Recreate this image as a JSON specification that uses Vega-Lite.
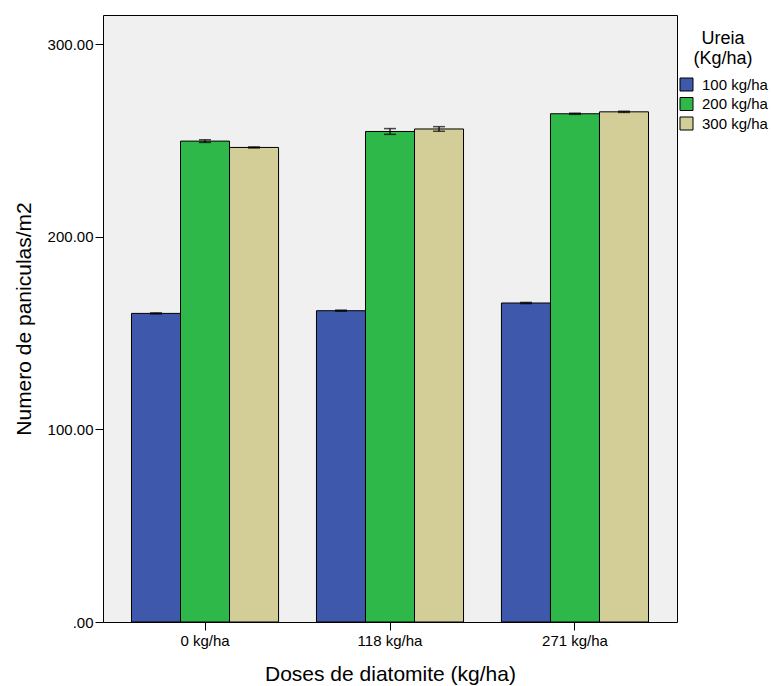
{
  "$schema": "https://vega.github.io/schema/vega-lite/v6.json",
  "width": 574,
  "height": 607,
  "autosize": {"type": "none"},
  "padding": {"left": 103, "top": 15, "right": 94, "bottom": 64},
  "background": "white",
  "config": {
    "font": "Liberation Sans",
    "view": {"fill": "#f0f0f0", "stroke": "black", "strokeWidth": 1},
    "axis": {
      "labelFont": "Liberation Sans",
      "titleFont": "Liberation Sans",
      "titleFontWeight": "normal",
      "domain": false,
      "grid": false,
      "tickColor": "black",
      "labelColor": "black",
      "titleColor": "black"
    },
    "legend": {
      "labelFont": "Liberation Sans",
      "titleFont": "Liberation Sans"
    }
  },
  "data": {
    "values": [
      {"dose": "0 kg/ha", "ureia": "100 kg/ha", "mean": 160.3, "lo": 160.0, "hi": 160.6},
      {"dose": "0 kg/ha", "ureia": "200 kg/ha", "mean": 249.8, "lo": 249.1, "hi": 250.5},
      {"dose": "0 kg/ha", "ureia": "300 kg/ha", "mean": 246.5, "lo": 246.2, "hi": 246.8},
      {"dose": "118 kg/ha", "ureia": "100 kg/ha", "mean": 161.7, "lo": 161.4, "hi": 162.0},
      {"dose": "118 kg/ha", "ureia": "200 kg/ha", "mean": 254.8, "lo": 253.3, "hi": 256.3},
      {"dose": "118 kg/ha", "ureia": "300 kg/ha", "mean": 256.1, "lo": 254.9, "hi": 257.3},
      {"dose": "271 kg/ha", "ureia": "100 kg/ha", "mean": 165.7, "lo": 165.4, "hi": 166.0},
      {"dose": "271 kg/ha", "ureia": "200 kg/ha", "mean": 264.0, "lo": 263.7, "hi": 264.3},
      {"dose": "271 kg/ha", "ureia": "300 kg/ha", "mean": 265.0, "lo": 264.7, "hi": 265.3}
    ]
  },
  "encoding": {
    "x": {
      "field": "dose",
      "type": "nominal",
      "sort": ["0 kg/ha", "118 kg/ha", "271 kg/ha"],
      "scale": {"paddingInner": 0.205, "paddingOuter": 0.154},
      "axis": {
        "labelAngle": 0,
        "title": "Doses de diatomite (kg/ha)",
        "titleFontSize": 21,
        "labelFontSize": 15,
        "tickSize": 8,
        "labelPadding": 3,
        "titlePadding": 15
      }
    },
    "xOffset": {
      "field": "ureia",
      "type": "nominal",
      "sort": ["100 kg/ha", "200 kg/ha", "300 kg/ha"],
      "scale": {"paddingInner": 0, "paddingOuter": 0}
    }
  },
  "layer": [
    {
      "mark": {"type": "bar", "stroke": "black", "strokeWidth": 1},
      "encoding": {
        "y": {
          "field": "mean",
          "type": "quantitative",
          "scale": {"domain": [0, 315.3], "nice": false, "zero": true},
          "axis": {
            "title": "Numero de paniculas/m2",
            "values": [0, 100, 200, 300],
            "labelExpr": "datum.value == 0 ? '.00' : format(datum.value, '.2f')",
            "labelFontSize": 15,
            "titleFontSize": 21,
            "tickSize": 8,
            "labelPadding": 2,
            "titlePadding": 13
          }
        },
        "color": {
          "field": "ureia",
          "type": "nominal",
          "sort": ["100 kg/ha", "200 kg/ha", "300 kg/ha"],
          "scale": {"range": ["#3e58ac", "#2fb84a", "#d3ce98"]},
          "legend": {
            "title": ["Ureia", "(Kg/ha)"],
            "orient": "none",
            "legendX": 576,
            "legendY": 15,
            "titleFontSize": 18,
            "titleFontWeight": "normal",
            "titleAnchor": "middle",
            "titleAlign": "center",
            "titleLineHeight": 20,
            "titlePadding": 9,
            "labelFontSize": 15,
            "symbolType": "square",
            "symbolSize": 169,
            "symbolStrokeColor": "black",
            "symbolStrokeWidth": 1,
            "symbolOpacity": 1,
            "rowPadding": 2.5,
            "labelOffset": 8
          }
        }
      }
    },
    {
      "mark": {"type": "rule", "color": "black", "strokeWidth": 1.2},
      "encoding": {
        "y": {
          "field": "lo",
          "type": "quantitative",
          "axis": {
            "title": "Numero de paniculas/m2",
            "values": [0, 100, 200, 300],
            "labelExpr": "datum.value == 0 ? '.00' : format(datum.value, '.2f')",
            "labelFontSize": 15,
            "titleFontSize": 21,
            "tickSize": 8,
            "labelPadding": 2,
            "titlePadding": 13
          }
        },
        "y2": {"field": "hi"}
      }
    },
    {
      "mark": {"type": "tick", "color": "black", "size": 12, "thickness": 1.5},
      "encoding": {
        "y": {
          "field": "lo",
          "type": "quantitative",
          "axis": {
            "title": "Numero de paniculas/m2",
            "values": [0, 100, 200, 300],
            "labelExpr": "datum.value == 0 ? '.00' : format(datum.value, '.2f')",
            "labelFontSize": 15,
            "titleFontSize": 21,
            "tickSize": 8,
            "labelPadding": 2,
            "titlePadding": 13
          }
        }
      }
    },
    {
      "mark": {"type": "tick", "color": "black", "size": 12, "thickness": 1.5},
      "encoding": {
        "y": {
          "field": "hi",
          "type": "quantitative",
          "axis": {
            "title": "Numero de paniculas/m2",
            "values": [0, 100, 200, 300],
            "labelExpr": "datum.value == 0 ? '.00' : format(datum.value, '.2f')",
            "labelFontSize": 15,
            "titleFontSize": 21,
            "tickSize": 8,
            "labelPadding": 2,
            "titlePadding": 13
          }
        }
      }
    }
  ]
}
